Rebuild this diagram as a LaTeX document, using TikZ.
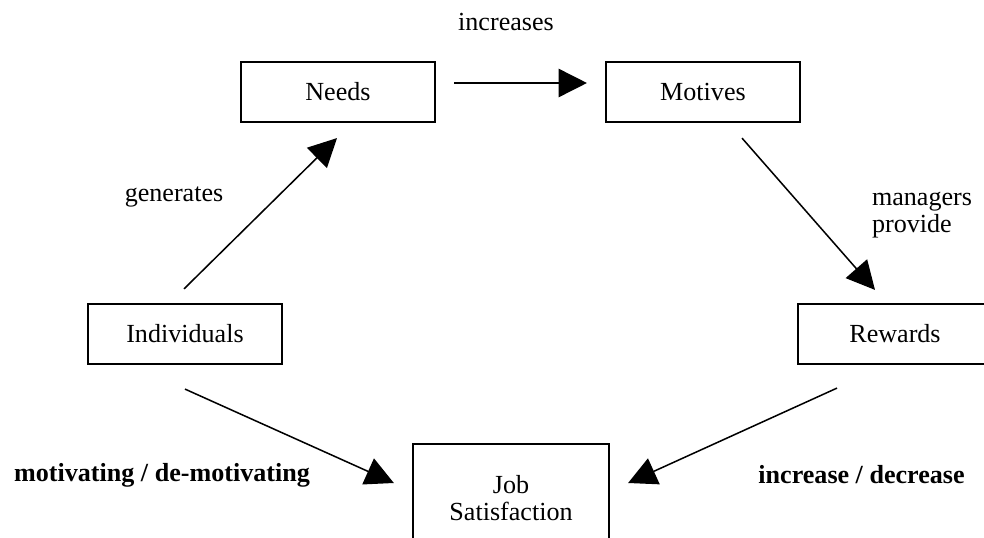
\documentclass[tikz,border=0pt]{standalone}
\usepackage{fontspec}
\setmainfont{Liberation Serif}
\usetikzlibrary{arrows.meta}
\tikzset{
  boite/.style={draw, line width=1pt, minimum width=89.2pt, minimum height=27.6pt,
    inner sep=0pt, align=center, font=\fontsize{12}{12.5}\selectfont},
  fleche/.style={line width=0.7pt, -{Triangle[length=13pt,width=13pt]}},
  etiq/.style={inner sep=0pt, font=\fontsize{12}{12.5}\selectfont}
}
\begin{document}
\begin{tikzpicture}[x=0.46pt,y=-0.46pt]
\clip (0,0) rectangle (984,538);

%%%%%%%%%%% les cases
\node[boite] (needs) at (338,92) {Needs};
\node[boite] (motives) at (703,92) {Motives};
\node[boite] (ind) at (185,334) {Individuals};
\node[boite] (rew) at (895,334) {Rewards};
\node[boite, minimum width=90.2pt, minimum height=49.7pt] (job) at (511,498) {Job\\Satisfaction};

%%%%%%%%%%% les fleches
% ---------------    haut
\draw[fleche] ([shift={(18,-9)}]needs.east) -- ([shift={(-18,-9)}]motives.west);
\node[etiq] (increases) at (506,22) {increases};
% ---------------    gauche
\draw[fleche] ([shift={(-1,-14)}]ind.north) -- ([shift={(-1,15)}]needs.south);
\node[etiq] (generates) at (174,197) {generates};
% ---------------    droite
\draw[fleche] ([shift={(39,15)}]motives.south) -- ([shift={(-20,-13)}]rew.north);
\node[etiq, align=left] (provide) at (922,215) {managers\\provide};
% ---------------    bas
\draw[fleche] ([shift={(0,24)}]ind.south) -- ([shift={(-18,-15)}]job.west);
\draw[fleche] ([shift={(-58,23)}]rew.south) -- ([shift={(18,-15)}]job.east);
\node[etiq, font=\fontsize{12}{12.5}\selectfont\bfseries] (motiv) at (162,475) {motivating / de-motivating};
\node[etiq, anchor=west, font=\fontsize{12}{12.5}\selectfont\bfseries] (incdec) at (758,475) {increase / decrease};
\end{tikzpicture}
\end{document}
